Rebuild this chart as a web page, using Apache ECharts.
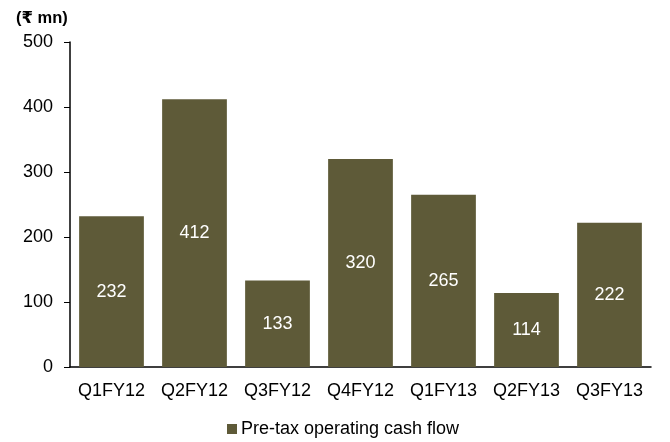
<!DOCTYPE html>
<html lang="en">
<head>
    <meta charset="UTF-8">
    <title>Pre-tax operating cash flow</title>
    <script type="text/javascript" src="https://cdn.jsdelivr.net/npm/echarts@6/dist/echarts.min.js"></script>
    <style>
        body { margin: 0; background: #fff; }
    </style>
</head>
<body>
    <div id="main" style="width: 670px; height: 442px"></div>
    <script>
        var quarters = ['Q1FY12', 'Q2FY12', 'Q3FY12', 'Q4FY12', 'Q1FY13', 'Q2FY13', 'Q3FY13'];
        var cashFlow = [232, 412, 133, 320, 265, 114, 222];
        var seriesName = 'Pre-tax operating cash flow';
        var unitLabel = '(\u20b9 mn)';

        var font = "'Liberation Sans', Arial, 'DejaVu Sans', sans-serif";
        var myChart = echarts.init(document.getElementById('main'));

        myChart.setOption({
            animation: false,
            textStyle: { fontFamily: font },
            title: {
                text: unitLabel,
                left: 11,
                top: 5,
                textStyle: { fontSize: 16.5, fontWeight: 'bold', color: '#000', fontFamily: font }
            },
            grid: { left: 70, right: 19, top: 42, bottom: 75 },
            legend: {
                left: 222,
                top: 415,
                itemWidth: 10,
                itemHeight: 10,
                itemGap: 4,
                icon: 'rect',
                textStyle: { fontSize: 18, color: '#000', padding: [0, 0, 0, -1] },
                data: [seriesName]
            },
            xAxis: {
                type: 'category',
                data: quarters,
                axisLine: { lineStyle: { color: '#000', width: 1.5 } },
                axisTick: { length: 5, lineStyle: { color: '#000' } },
                axisLabel: { fontSize: 18, color: '#000', margin: 15, interval: 0 }
            },
            yAxis: {
                type: 'value',
                min: 0,
                max: 500,
                interval: 100,
                axisLine: { show: true, lineStyle: { color: '#000', width: 1.5 } },
                axisTick: { show: true, length: 6, lineStyle: { color: '#000' } },
                axisLabel: { fontSize: 18, color: '#000', margin: 17 },
                splitLine: { show: false }
            },
            series: [{
                name: seriesName,
                type: 'bar',
                data: cashFlow,
                barCategoryGap: '22%',
                itemStyle: { color: '#5e5a38' },
                label: {
                    show: true,
                    position: 'inside',
                    color: '#fff',
                    fontSize: 18,
                    fontFamily: font
                }
            }]
        });
    </script>
</body>
</html>
